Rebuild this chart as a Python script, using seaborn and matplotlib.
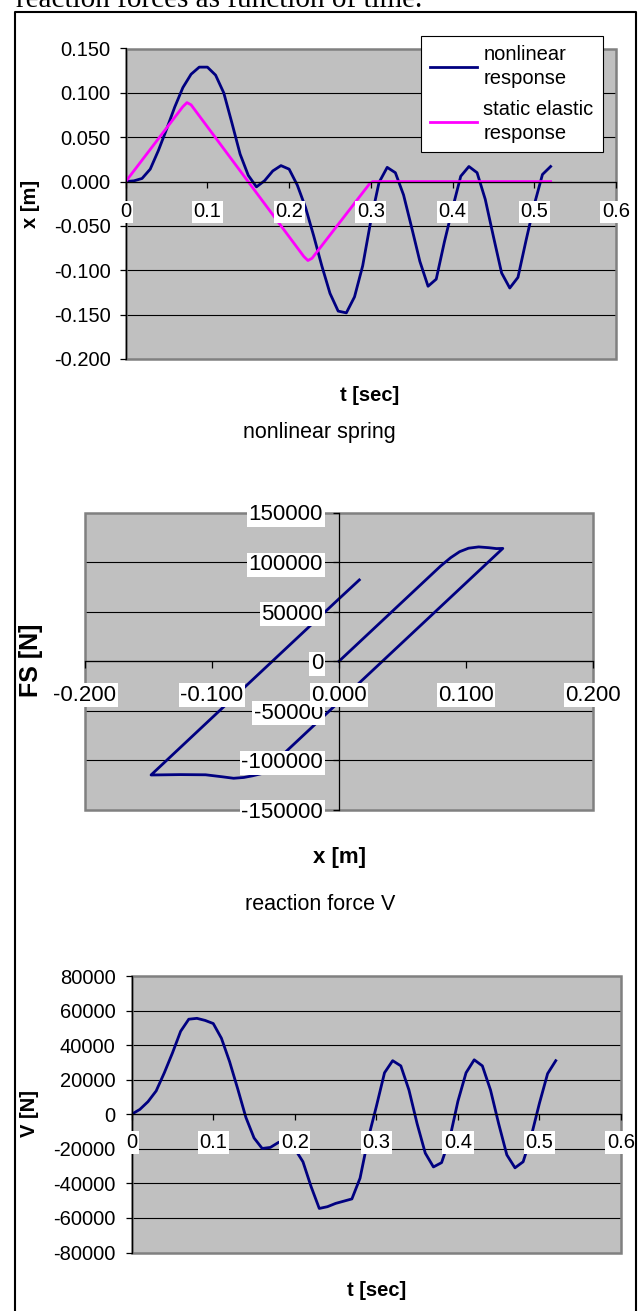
import matplotlib
matplotlib.use("Agg")
import matplotlib.pyplot as plt
import seaborn as sns
from matplotlib.patches import Rectangle
from matplotlib.lines import Line2D

# ---------------- data ----------------
t_sec = [0.00, 0.01, 0.02, 0.03, 0.04, 0.05, 0.06, 0.07, 0.08, 0.09,
         0.10, 0.11, 0.12, 0.13, 0.14, 0.15, 0.16, 0.17, 0.18, 0.19,
         0.20, 0.21, 0.22, 0.23, 0.24, 0.25, 0.26, 0.27, 0.28, 0.29,
         0.30, 0.31, 0.32, 0.33, 0.34, 0.35, 0.36, 0.37, 0.38, 0.39,
         0.40, 0.41, 0.42, 0.43, 0.44, 0.45, 0.46, 0.47, 0.48, 0.49,
         0.50, 0.51, 0.52]

x_nonlinear = [0.000, 0.0008, 0.0035, 0.014, 0.035, 0.059, 0.084, 0.106, 0.121, 0.129,
               0.129, 0.120, 0.100, 0.066, 0.031, 0.007, -0.006, 0.001, 0.012, 0.018,
               0.014, -0.004, -0.029, -0.061, -0.095, -0.126, -0.146, -0.148, -0.130, -0.095,
               -0.044, -0.001, 0.016, 0.010, -0.015, -0.052, -0.090, -0.118, -0.110, -0.068,
               -0.030, 0.006, 0.017, 0.010, -0.020, -0.062, -0.103, -0.120, -0.108, -0.066,
               -0.026, 0.008, 0.017]

static_t = [0.000, 0.070, 0.075, 0.080, 0.218, 0.223, 0.228, 0.298, 0.302, 0.520]
static_x = [0.000, 0.0845, 0.0890, 0.0865, -0.0845, -0.0890, -0.0865, -0.003, 0.000, 0.000]

spring_x = [0.000, 0.020, 0.040, 0.060, 0.080, 0.088, 0.095, 0.102, 0.110, 0.118, 0.124, 0.129,
            0.100, 0.060, 0.020, -0.020, -0.060, -0.068,
            -0.075, -0.083, -0.092, -0.105, -0.125, -0.148,
            -0.100, -0.050, 0.000, 0.016]
spring_fs = [0, 24000, 48000, 72000, 96000, 104500, 110500, 114000, 115300, 114500, 113600, 113800,
             79000, 31000, -17000, -65000, -113000, -115500,
             -117200, -118000, -116500, -114500, -114300, -114700,
             -57000, 3000, 63000, 82000]

reaction_v = [0, 2800, 7300, 13500, 24000, 35500, 48000, 55000, 55500, 54300,
              52500, 44000, 30500, 14700, -1800, -13700, -19800, -19200, -16300, -15000,
              -20000, -27500, -41900, -54500, -53500, -51600, -50300, -49000, -37000, -14000,
              4500, 24000, 31000, 28000, 14000, -5500, -22500, -30500, -28000, -14000,
              7500, 24000, 31500, 28000, 14000, -5500, -23500, -31000, -27500, -12500,
              6400, 23500, 31000]

time_ticks = [0, 0.1, 0.2, 0.3, 0.4, 0.5, 0.6]
time_ticklabels = ["0", "0.1", "0.2", "0.3", "0.4", "0.5", "0.6"]
disp_ticks = [0.15, 0.10, 0.05, 0.0, -0.05, -0.10, -0.15, -0.20]
disp_ticklabels = ["0.150", "0.100", "0.050", "0.000", "-0.050", "-0.100", "-0.150", "-0.200"]
spring_xticks = [-0.2, -0.1, 0.0, 0.1, 0.2]
spring_xticklabels = ["-0.200", "-0.100", "0.000", "0.100", "0.200"]
spring_fticks = [150000, 100000, 50000, 0, -50000, -100000, -150000]
spring_fticklabels = ["150000", "100000", "50000", "0", "-50000", "-100000", "-150000"]
v_ticks = [80000, 60000, 40000, 20000, 0, -20000, -40000, -60000, -80000]
v_ticklabels = ["80000", "60000", "40000", "20000", "0", "-20000", "-40000", "-60000", "-80000"]

series_labels = ["nonlinear\nresponse", "static elastic\nresponse"]

# ---------------- style ----------------
plt.rcParams['font.family'] = ['Liberation Sans', 'DejaVu Sans']
NAVY = '#000080'
MAGENTA = '#FF00FF'
PLOT_BG = '#C0C0C0'
BORDER = '#808080'

W, H = 641, 1311
fig = plt.figure(figsize=(W / 100, H / 100), dpi=100)
fig.patch.set_facecolor('white')


def add_axes_px(left, right, top, bottom):
    return fig.add_axes([left / W, 1 - bottom / H, (right - left) / W, (bottom - top) / H])


def style_axes(ax, xlim, ylim, xticks, xlabels, yticks, ylabels, tick_size,
               xpad, ypad, xlen=4, ylen=4):
    ax.set_facecolor(PLOT_BG)
    ax.set_xlim(*xlim)
    ax.set_ylim(*ylim)
    for v in yticks:
        if min(ylim) < v < max(ylim):
            ax.axhline(v, color='black', lw=0.8, zorder=1.2)
    ax.add_patch(Rectangle((0, 0), 1, 1, transform=ax.transAxes, fill=False,
                           ec=BORDER, lw=1.8, clip_on=False, zorder=1.3))
    for s in ('top', 'right'):
        ax.spines[s].set_visible(False)
    ax.spines['left'].set_position(('data', 0))
    ax.spines['bottom'].set_position(('data', 0))
    for s in ('left', 'bottom'):
        ax.spines[s].set_color('black')
        ax.spines[s].set_linewidth(0.9)
    ax.set_axisbelow(False)
    ax.xaxis.set_zorder(2.6)
    ax.set_xticks(xticks)
    ax.set_xticklabels(xlabels, fontsize=tick_size)
    ax.set_yticks(yticks)
    ax.set_yticklabels(ylabels, fontsize=tick_size)
    ax.tick_params(axis='x', direction='out', length=xlen, width=0.9, pad=xpad, colors='black')
    ax.tick_params(axis='y', direction='out', length=ylen, width=0.9, pad=ypad, colors='black')
    for lab in ax.get_xticklabels() + ax.get_yticklabels():
        lab.set_bbox(dict(facecolor='white', edgecolor='none', pad=1.2))
    ax.grid(False)


def axis_titles(ax, xlabel, xpos, xsize, ylabel, ypos, ysize):
    ax.set_xlabel(xlabel, fontweight='bold', fontsize=xsize)
    ax.xaxis.set_label_coords(*xpos)
    ax.xaxis.label.set_verticalalignment('center')
    ax.set_ylabel(ylabel, fontweight='bold', fontsize=ysize)
    ax.yaxis.set_label_coords(*ypos)
    ax.yaxis.label.set_verticalalignment('center')


# ---------- page text and frame ----------
fig.text(16 / W, 1 - 7 / H, "reaction forces as function of time.",
         fontfamily=['Liberation Serif', 'DejaVu Serif'], fontsize=21, va='baseline', ha='left')
frame_x = [15 / W, 15 / W, 636 / W, 636 / W]
frame_y = [-0.01, 1 - 12 / H, 1 - 12 / H, -0.01]
fig.add_artist(Line2D(frame_x, frame_y, color='black', lw=1.5, transform=fig.transFigure))

# ---------- chart 1: displacement ----------
ax1 = add_axes_px(125.7, 616, 48.5, 359)
sns.lineplot(x=t_sec, y=x_nonlinear, ax=ax1, color=NAVY, lw=2.0, label=series_labels[0], zorder=2)
sns.lineplot(x=static_t, y=static_x, ax=ax1, color=MAGENTA, lw=2.0, label=series_labels[1], zorder=2)
style_axes(ax1, (0, 0.6), (-0.2, 0.15), time_ticks, time_ticklabels, disp_ticks, disp_ticklabels,
           14.5, xpad=11, ypad=7)
axis_titles(ax1, "t [sec]", (0.498, -0.116), 14.5, "x [m]", (-0.194, 0.5), 14.5)
leg = ax1.legend(loc='upper left', bbox_to_anchor=(0.602, 1.039), frameon=True, fancybox=False,
                 shadow=False, framealpha=1, edgecolor='black', borderaxespad=0, borderpad=0.45,
                 handlelength=2.35, handletextpad=0.3, labelspacing=0.6,
                 prop={'family': 'Liberation Sans', 'size': 14.5})
for txt in leg.get_texts():
    txt.set_linespacing(1.3)
leg.get_frame().set_linewidth(0.8)
leg.set_zorder(5)

# ---------- chart 2: nonlinear spring ----------
fig.text(319 / W, 1 - 433 / H, "nonlinear spring", fontsize=15.5, ha='center', va='center')
ax2 = add_axes_px(85, 593, 512.5, 810)
sns.lineplot(x=spring_x, y=spring_fs, ax=ax2, color=NAVY, lw=2.0, sort=False, estimator=None, zorder=2)
style_axes(ax2, (-0.2, 0.2), (-150000, 150000), spring_xticks, spring_xticklabels,
           spring_fticks, spring_fticklabels, 16, xpad=12, ypad=7.5, xlen=5)
axis_titles(ax2, "x [m]", (0.501, -0.158), 16, "FS [N]", (-0.107, 0.503), 18)

# ---------- chart 3: reaction force ----------
fig.text(320 / W, 1 - 905 / H, "reaction force V", fontsize=15.5, ha='center', va='center')
ax3 = add_axes_px(131.7, 621, 976, 1252.5)
sns.lineplot(x=t_sec, y=reaction_v, ax=ax3, color=NAVY, lw=2.0, zorder=2)
style_axes(ax3, (0, 0.6), (-80000, 80000), time_ticks, time_ticklabels, v_ticks, v_ticklabels,
           14.5, xpad=9.5, ypad=7.5)
axis_titles(ax3, "t [sec]", (0.501, -0.139), 14.5, "V [N]", (-0.209, 0.504), 14.5)

fig.savefig("out.png", dpi=100, facecolor='white')
